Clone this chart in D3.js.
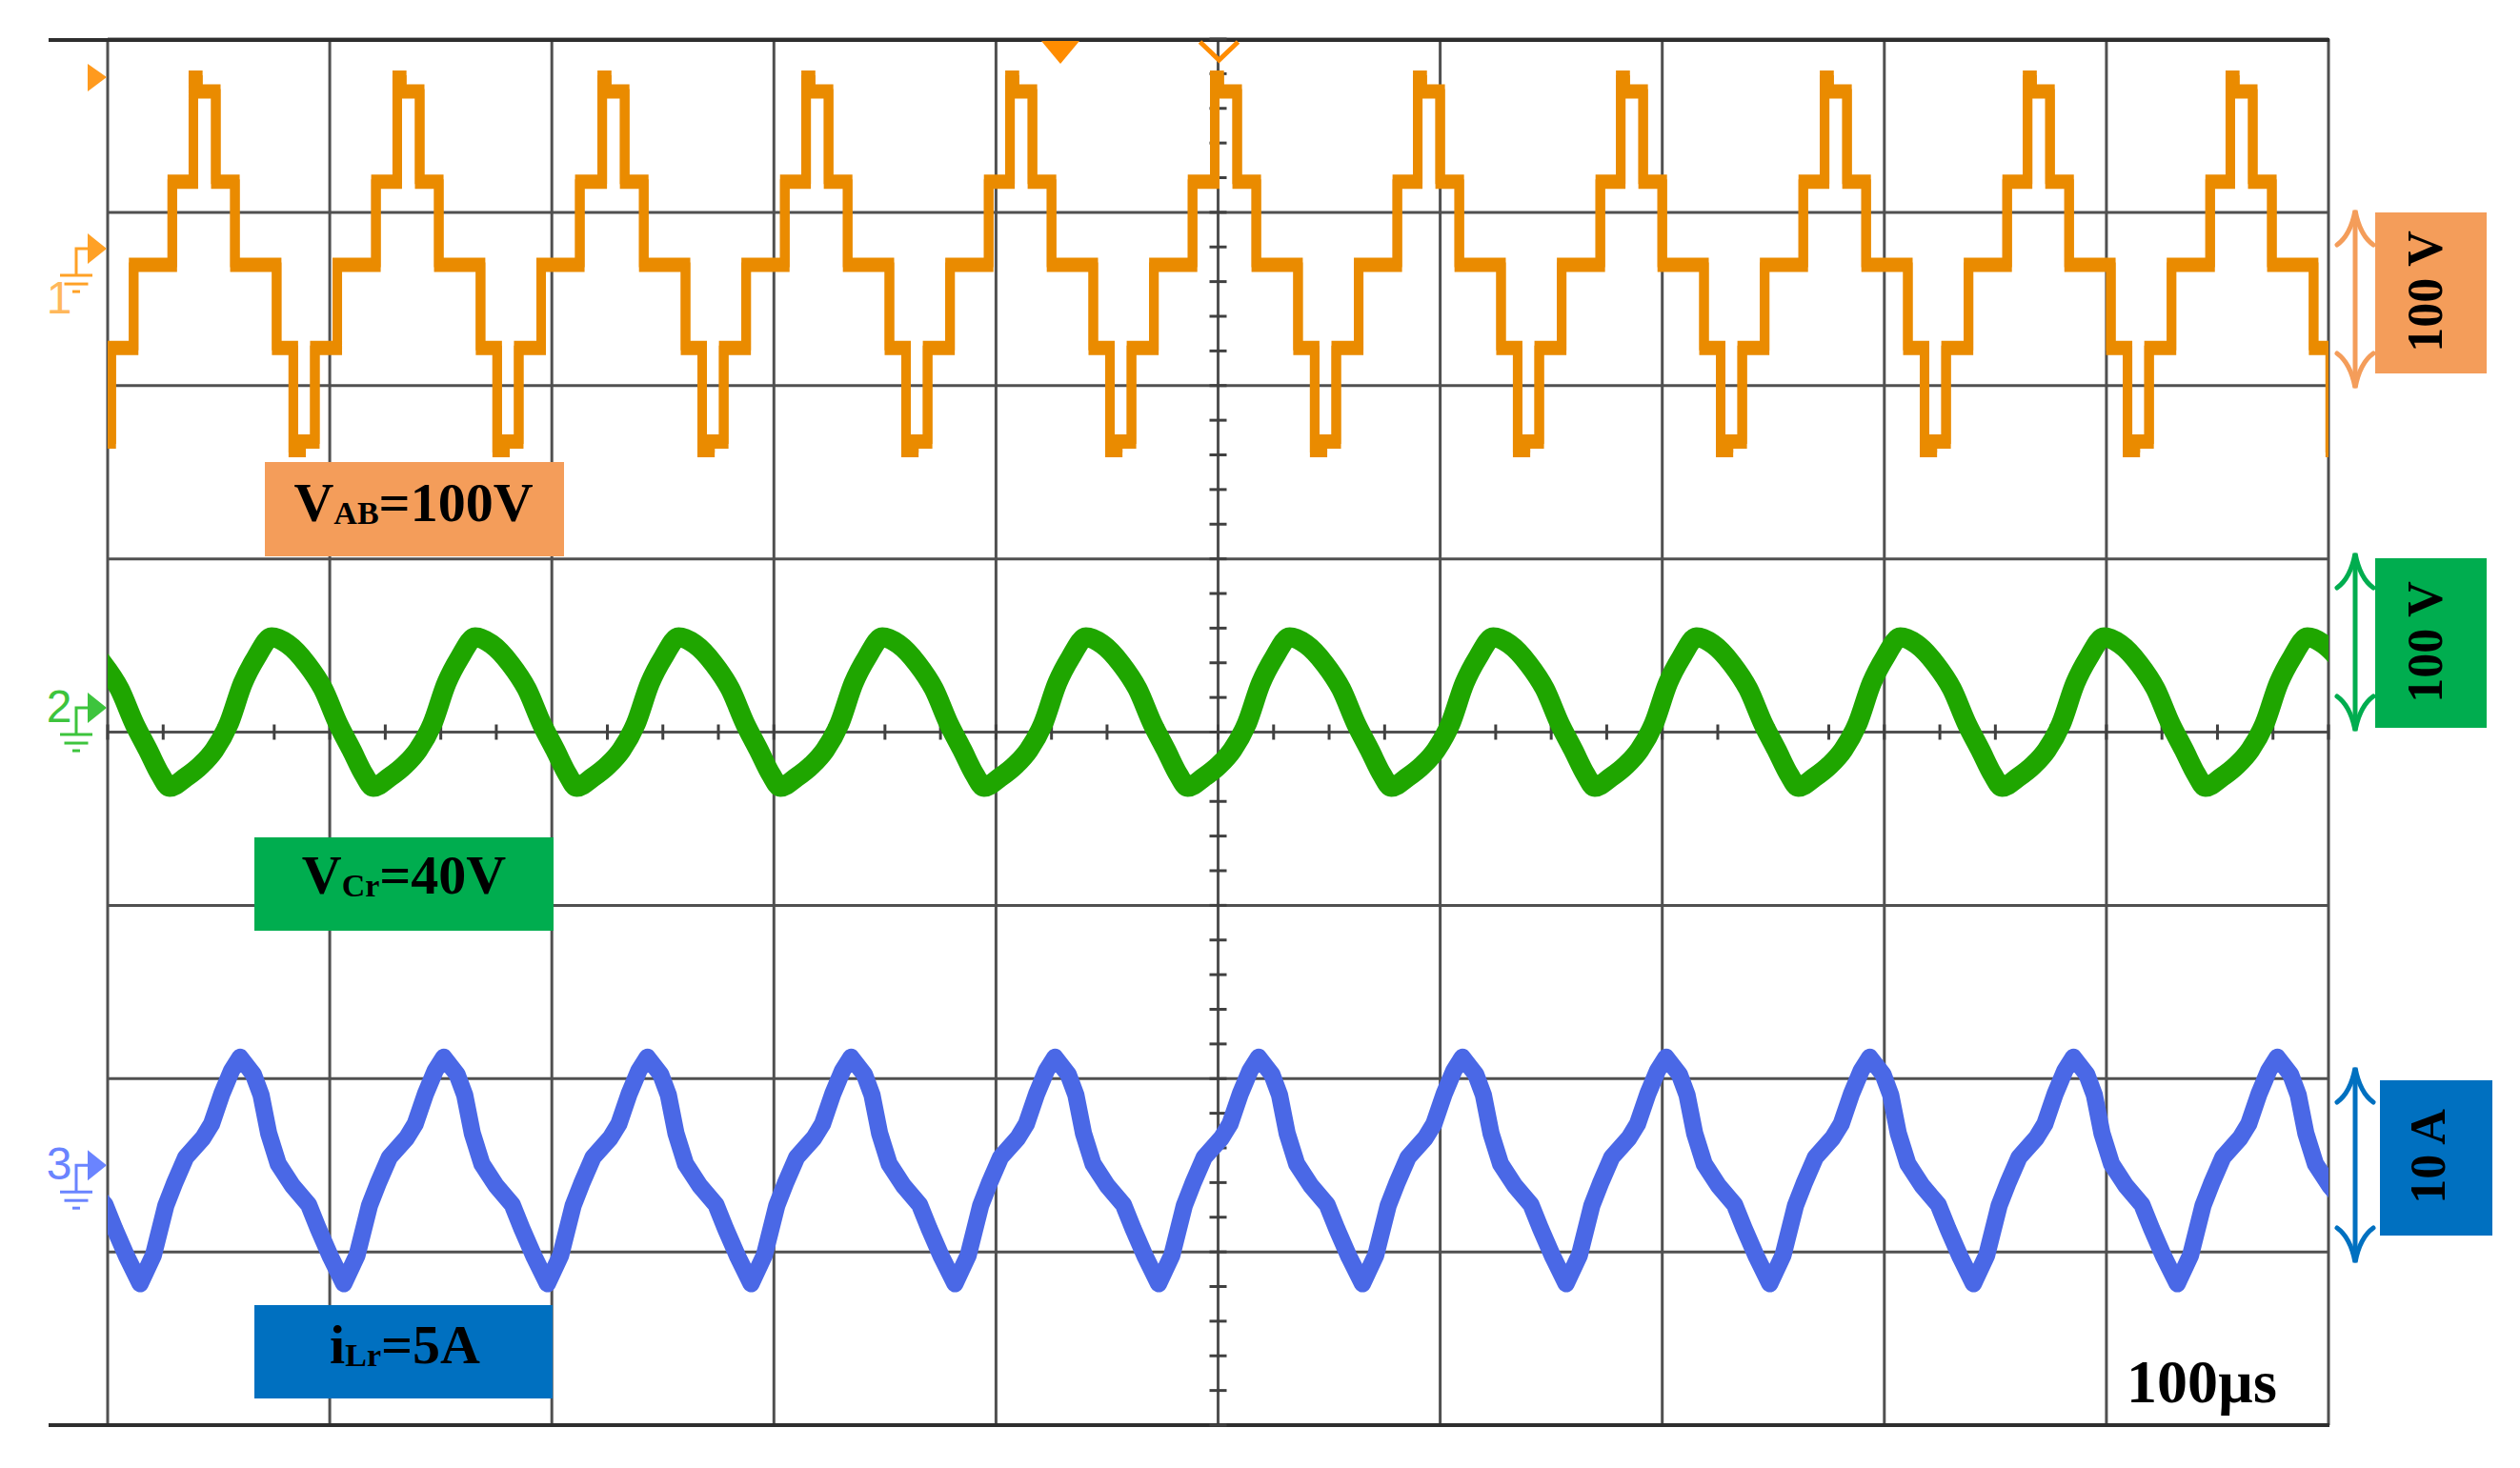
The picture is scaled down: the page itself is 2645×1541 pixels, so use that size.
<!DOCTYPE html>
<html><head><meta charset="utf-8">
<script src="https://cdn.jsdelivr.net/npm/d3@7"></script>
<style>html,body{margin:0;padding:0;background:#fff;}svg{display:block;}</style>
</head><body>
<svg id="chart" width="2645" height="1541"></svg>
<script>
// ================= DATA =================
// time base: 100 µs / div, 10 divisions
const timeGrid = [0,100,200,300,400,500,600,700,800,900,1000];      // µs
const voltGrid = [-4,-3,-2,-1,0,1,2,3,4];                            // divisions

// CH1  V_AB  (multilevel staircase) -- start time of each rise to the top level (µs)
const vabRiseTimes   = [-53.1, 38.6, 130.4, 222.7, 314.5, 406.3, 498.5, 589.9, 681.3, 773.1, 864.5, 955.8];
// offsets of each level change inside one period (µs) and the level entered (V)
const vabStepOffsets = [0, 2.0, 10.1, 18.7, 37.5, 45.0, 48.5, 54.7, 64.8, 82.2];
const vabStepLevels  = [108, 100, 48, 0, -48, -107, -102, -48, 0, 48];

// CH2  V_Cr  -- time of each trough (µs) and shape of one period
const vcrTroughTimes  = [-63.8, 27.9, 119.6, 211.2, 302.9, 394.6, 486.3, 578.0, 669.6, 761.3, 853.0, 944.6];
const vcrShapeOffsets = [0, 7.3, 14.2, 20.2, 26.6, 33.0, 39.0, 45.9, 53.2, 61.8, 69.1, 75.9, 81.9, 87.5];
const vcrShapeValues  = [-43.4, -37.9, -30.8, -22.0, -7.1, 16.5, 31.3, 42.9, 39.0, 27.5, 13.2, -7.1, -22.0, -36.3];

// CH3  i_Lr  -- time of each trough (µs) and shape of one period
const ilrTroughTimes  = [-77.1, 14.6, 106.3, 198.0, 289.7, 381.5, 473.2, 565.0, 656.7, 748.4, 840.1, 931.9];
const ilrShapeOffsets = [0, 6.0, 11.6, 15.4, 20.6, 28.3, 32.2, 36.9, 41.2, 45.0, 51.0, 54.5, 57.9, 62.2, 68.6, 75.9, 80.2, 85.8];
const ilrShapeValues  = [-6.54, -4.89, -2.03, -0.77, 0.77, 1.87, 2.69, 4.45, 5.77, 6.54, 5.55, 4.34, 2.14, 0.38, -0.88, -1.98, -3.35, -5.0];

// channel settings (volts or amps per division, zero position in divisions)
const channelNames   = ["1", "2", "3"];
const channelPerDiv  = [100, 100, 10];
const channelZeroDiv = [2.697, 0.118, -2.53];
const channelMarkDiv = [2.79, 0.14, -2.50];

// texts
const scaleLabels = ["100 V", "100 V", "10 A"];
const timebaseLabel = "100µs";

// ================= CHART =================
const svg = d3.select("#chart");
svg.append("rect").attr("width",2645).attr("height",1541).attr("fill","#fff");

const L = 113, R = 2444, T = 41, B = 1496;
const x = d3.scaleLinear().domain([0, 1000]).range([L, R]);
const yDiv = d3.scaleLinear().domain([-4, 4]).range([B, T]);
const chY = i => v => yDiv(channelZeroDiv[i] + v / channelPerDiv[i]);

const defs = svg.append("defs");
defs.append("clipPath").attr("id","plot").append("rect")
  .attr("x", L).attr("y", T).attr("width", R - L).attr("height", B - T);

// grid
const grid = svg.append("g");
grid.selectAll("line.v").data(timeGrid).join("line")
  .attr("x1", d => x(d)).attr("x2", d => x(d))
  .attr("y1", T).attr("y2", B)
  .attr("stroke", "#505050").attr("stroke-width", 3);
grid.selectAll("line.h").data(voltGrid).join("line")
  .attr("x1", L).attr("x2", R)
  .attr("y1", d => yDiv(d)).attr("y2", d => yDiv(d))
  .attr("stroke", "#505050").attr("stroke-width", 3);
// outer top / bottom frame lines (extend to the left)
[T + 1, B].forEach(yy => grid.append("line")
  .attr("x1", 51).attr("x2", R + 1).attr("y1", yy).attr("y2", yy)
  .attr("stroke", "#2e2e2e").attr("stroke-width", 4));

// centre axis minor ticks
const xc = x(500), yc = yDiv(0);
grid.selectAll("line.vt").data(d3.range(-4, 4.0001, 0.2)).join("line")
  .attr("x1", xc - 9).attr("x2", xc + 9)
  .attr("y1", d => yDiv(d)).attr("y2", d => yDiv(d))
  .attr("stroke", "#404040").attr("stroke-width", 3);
grid.selectAll("line.ht").data(d3.range(0, 1000.001, 25)).join("line")
  .attr("x1", d => x(d)).attr("x2", d => x(d))
  .attr("y1", yc - 8).attr("y2", yc + 8)
  .attr("stroke", "#404040").attr("stroke-width", 3);

// build traces
function periodic(starts, offs, vals) {
  const pts = [];
  starts.forEach(s => offs.forEach((o, i) => pts.push([s + o, vals[i]])));
  return pts;
}
const vabPts = periodic(vabRiseTimes, vabStepOffsets, vabStepLevels);
const vcrPts = periodic(vcrTroughTimes, vcrShapeOffsets, vcrShapeValues);
const ilrPts = periodic(ilrTroughTimes, ilrShapeOffsets, ilrShapeValues);

const traces = svg.append("g").attr("clip-path", "url(#plot)");

const lineVab = d3.line().x(d => x(d[0])).y(d => chY(0)(d[1])).curve(d3.curveStepAfter);
[-2.5, 2.5].forEach(dy => traces.append("path").datum(vabPts)
  .attr("transform", `translate(0,${dy})`)
  .attr("d", lineVab).attr("fill", "none")
  .attr("stroke", "#EA8B00").attr("stroke-width", 10).attr("stroke-linejoin", "miter"));

const lineVcr = d3.line().x(d => x(d[0])).y(d => chY(1)(d[1])).curve(d3.curveMonotoneX);
traces.append("path").datum(vcrPts).attr("d", lineVcr).attr("fill", "none")
  .attr("stroke", "#1FA600").attr("stroke-width", 21).attr("stroke-linejoin", "round");

const lineIlr = d3.line().x(d => x(d[0])).y(d => chY(2)(d[1])).curve(d3.curveLinear);
traces.append("path").datum(ilrPts).attr("d", lineIlr).attr("fill", "none")
  .attr("stroke", "#4A68E6").attr("stroke-width", 18).attr("stroke-linejoin", "round");

// left channel markers
const markColors = ["#FFA126", "#3DC43D", "#6A84FF"];
channelNames.forEach((nm, i) => {
  const yt = yDiv(channelMarkDiv[i]);
  const c = markColors[i];
  const g = svg.append("g");
  g.append("path").attr("d", `M92,${yt-16} L112,${yt} L92,${yt+16} Z`).attr("fill", c);
  g.append("path").attr("d", `M93,${yt} H80 V${yt+28}`).attr("fill", "none").attr("stroke", c).attr("stroke-width", 3);
  [[34, 28], [25, 37], [8, 45]].forEach(([w, dy]) => g.append("line")
    .attr("x1", 80 - w / 2).attr("x2", 80 + w / 2).attr("y1", yt + dy).attr("y2", yt + dy)
    .attr("stroke", c).attr("stroke-width", 3));
  const ty = i === 0 ? yt + 68 : yt + 15;
  g.append("text").attr("x", 62).attr("y", ty).attr("text-anchor", "middle")
    .attr("font-family", "Liberation Sans, Arial, sans-serif").attr("font-size", 48)
    .attr("fill", c).attr("opacity", i === 0 ? 0.75 : 1).text(nm);
});
// trigger level marker (CH1)
svg.append("path").attr("d", "M92,67 L112,81 L92,96 Z").attr("fill", "#FF9A1E");
// top markers
svg.append("path").attr("d", "M1093,43 L1133,43 L1113,67 Z").attr("fill", "#FF8C00");
svg.append("path").attr("d", `M${xc-19},44 L${xc+1},63 L${xc+21},44`).attr("fill", "none")
  .attr("stroke", "#FF8C00").attr("stroke-width", 5);

// label boxes inside the plot
const serif = "Liberation Serif, Times New Roman, serif";
function labelBox(bx, by, bw, bh, fill, tx, ty, main, sub, rest) {
  svg.append("rect").attr("x", bx).attr("y", by).attr("width", bw).attr("height", bh).attr("fill", fill);
  const t = svg.append("text").attr("x", tx).attr("y", ty).attr("text-anchor", "middle")
    .attr("font-family", serif).attr("font-weight", "bold").attr("fill", "#000");
  t.append("tspan").attr("font-size", 58).text(main);
  t.append("tspan").attr("font-size", 34).attr("dy", 3).text(sub);
  t.append("tspan").attr("font-size", 58).attr("dy", -3).text(rest);
}
labelBox(278, 485, 314, 99, "#F49D5A", 434, 547, "V", "AB", "=100V");
labelBox(267, 879, 314, 98, "#00AD4F", 424, 938, "V", "Cr", "=40V");
labelBox(267, 1370, 313, 98, "#0070C0", 425, 1431, "i", "Lr", "=5A");

// right-hand scale indicators
const rightBoxes = [
  {bx: 2493, by: 223, bw: 117, bh: 169, fill: "#F49D5A", ay0: 221, ay1: 407, tx: 2545, ty: 306},
  {bx: 2493, by: 586, bw: 117, bh: 178, fill: "#00AD4F", ay0: 581, ay1: 767, tx: 2545, ty: 674},
  {bx: 2498, by: 1134, bw: 118, bh: 163, fill: "#0070C0", ay0: 1121, ay1: 1325, tx: 2548, ty: 1214}
];
rightBoxes.forEach((b, i) => {
  svg.append("rect").attr("x", b.bx).attr("y", b.by).attr("width", b.bw).attr("height", b.bh).attr("fill", b.fill);
  svg.append("text").attr("transform", `translate(${b.tx},${b.ty}) rotate(-90)`)
    .attr("text-anchor", "middle").attr("dy", "0.34em")
    .attr("font-family", serif).attr("font-weight", "bold").attr("font-size", 52)
    .attr("fill", "#000").text(scaleLabels[i]);
  const ax = 2472;
  const g = svg.append("g").attr("fill", "none").attr("stroke", b.fill).attr("stroke-width", 5).attr("stroke-linecap", "round");
  g.append("line").attr("x1", ax).attr("x2", ax).attr("y1", b.ay0 + 2).attr("y2", b.ay1 - 2);
  g.append("path").attr("d", `M${ax-19},${b.ay0+36} Q${ax-5},${b.ay0+26} ${ax},${b.ay0} Q${ax+5},${b.ay0+26} ${ax+19},${b.ay0+36}`);
  g.append("path").attr("d", `M${ax-19},${b.ay1-36} Q${ax-5},${b.ay1-26} ${ax},${b.ay1} Q${ax+5},${b.ay1-26} ${ax+19},${b.ay1-36}`);
});

// timebase
svg.append("text").attr("x", 2232).attr("y", 1472)
  .attr("font-family", serif).attr("font-weight", "bold").attr("font-size", 64)
  .attr("fill", "#000").text(timebaseLabel);
</script>
</body></html>
